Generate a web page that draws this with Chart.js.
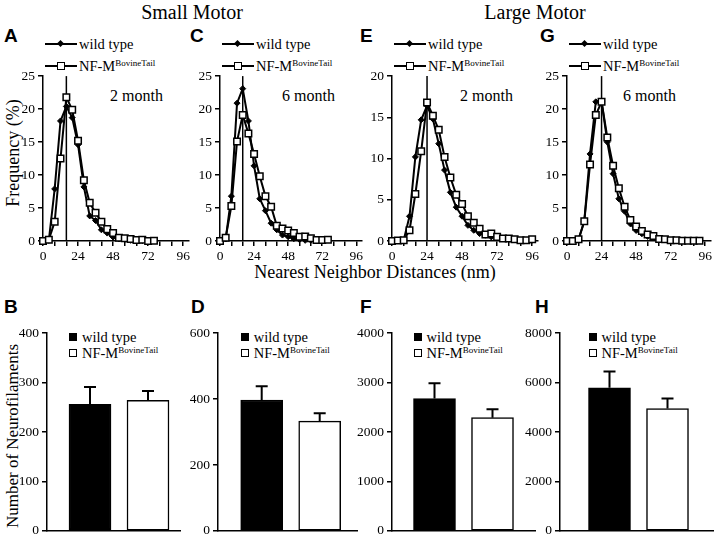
<!DOCTYPE html>
<html><head><meta charset="utf-8">
<script src="https://cdn.jsdelivr.net/npm/chart.js@4/dist/chart.umd.min.js"></script>
<style>
html,body{margin:0;padding:0;background:#fff}
body{width:720px;height:545px;position:relative;overflow:hidden;font-family:"Liberation Serif","Times New Roman",serif;color:#000}
canvas{position:absolute}
.t{position:absolute;white-space:nowrap;line-height:20px}
.let{position:absolute;font-family:"Liberation Sans",Arial,sans-serif;font-weight:bold;font-size:19px;line-height:20px}
.row{position:absolute;display:flex;align-items:center;height:16px;font-size:14.5px;white-space:nowrap}
.ln{position:relative;width:32px;height:0;border-top:2px solid #000;margin-right:2px}
.dia{position:absolute;left:13px;top:-4.5px;width:5px;height:5px;background:#000;transform:rotate(45deg)}
.sq{position:absolute;left:12px;top:-5.5px;width:6px;height:6px;background:#fff;border:1.5px solid #000}
.bsq{width:6px;height:6px;border:1.5px solid #000;margin-right:5px}
.tx sup{font-size:9px;vertical-align:5px;line-height:0}
</style></head><body>
<script>
// ---------- data ----------
const distBins = [0,4,8,12,16,20,24,28,32,36,40,44,48,52,56,60,64,68,72,76,80,84,88,92,96];
const xTickVals = [0,8,16,24,32,40,48,56,64,72,80,88,96];
const seriesNames = ['wild type', 'NF-M'];

// Small motor, 2 month (A)
const wtSmall2m = [0,0.1,7.9,18.2,20.4,18.7,14.6,8.2,3.8,3.1,1.7,1.2,0.6,0.3,0.2,0.1,0.1,0.05,0.05];
const nfSmall2m = [0,0.2,2.9,12.5,21.8,19.9,15.2,9.2,5.8,4.3,2.9,1.8,1.2,0.5,0.4,0.3,0.15,0.2,0.0,0.05];
// Small motor, 6 month (C)
const wtSmall6m = [0,0.3,6.8,20.9,23.1,18.2,11.4,6.4,4.6,2.7,1.7,0.9,0.65,0.35,0.2,0.1,0.1,0.05];
const nfSmall6m = [0,0.5,5.3,15.1,19.1,16.3,13.2,9.8,6.8,5.2,2.3,1.9,1.6,1.2,0.65,0.7,0.4,0.15,0.15,0.2];
// Large motor, 2 month (E)
const wtLarge2m = [0,0,0.1,3.0,10.2,14.7,16.4,14.8,11.8,8.6,5.9,4.1,3.0,1.9,1.3,0.9,0.7,0.5,0.4,0.3,0.2,0.15,0.1,0.1,0.1];
const nfLarge2m = [0,0.05,0.1,1.3,5.7,10.9,16.8,15.2,13.5,10.2,7.7,5.6,4.5,3.0,2.2,1.5,0.8,0.9,0.5,0.3,0.3,0.2,0.1,0.1,0.2];
// Large motor, 6 month (G)
const wtLarge6m = [0,0,0.2,3.0,13.2,21.1,21.2,15.0,10.2,6.4,4.5,2.6,1.6,1.1,0.7,0.5,0.3,0.2,0.1,0.1,0.05,0.05,0.05,0.05];
const nfLarge6m = [0,0,0.25,3.0,11.6,19.1,21.1,15.7,11.4,8.0,5.2,3.2,2.2,1.5,1.0,0.75,0.3,0.25,0.1,0.1,0.05,0.05,0.05,0.05];
// reference (peak) lines
const peakLines = [16,16,24,24];
const freqMax = [25,25,20,25];

// Neurofilament counts (B, D, F, H): [wild type, NF-M]
const countSmall2m = [256,264];   const errSmall2m = [35,19];
const countSmall6m = [397,333];   const errSmall6m = [42,24];
const countLarge2m = [2677,2290]; const errLarge2m = [310,168];
const countLarge6m = [5790,4950]; const errLarge6m = [660,400];
const countMax = [400,600,4000,8000];
const countStep = [100,200,1000,2000];
const ageLabels = ['2 month','6 month','2 month','6 month'];

// ---------- helpers ----------
const SERIF = "'Liberation Serif', 'Times New Roman', serif";
function el(tag, cls, style, html){const e=document.createElement(tag); if(cls)e.className=cls; if(style)e.style.cssText=style; if(html!==undefined)e.innerHTML=html; document.body.appendChild(e); return e;}
function pts(vals){return vals.map((v,i)=>({x:distBins[i],y:v}));}
const nfLabel = '<span class="tx">NF-M<sup>BovineTail</sup></span>';

function axisCommon(){
  return {
    grid:{display:true,drawOnChartArea:false,drawTicks:true,tickLength:5,color:'#000',lineWidth:1.5},
    border:{display:true,color:'#000',width:1.5},
    ticks:{color:'#000',font:{family:SERIF,size:13.5},padding:2,autoSkip:false,maxRotation:0,callback:v=>String(v)}
  };
}

function lineChart(axisX, plotW, wt, nf, peak, ymax){
  const PT=10, PR=12, YW=45, XH=28, PH=166;
  const c = el('canvas');
  c.width = YW+plotW+PR; c.height = PT+PH+XH;
  c.style.left=(axisX-YW)+'px'; c.style.top=(75-PT)+'px';
  c.style.width=c.width+'px'; c.style.height=c.height+'px';
  const xa = axisCommon(), ya = axisCommon();
  Object.assign(xa,{type:'linear',min:0,max:100,
    afterBuildTicks:s=>{s.ticks=xTickVals.map(v=>({value:v}));},
    afterFit:s=>{s.height=XH;}});
  xa.ticks.callback = v => (v%24===0 ? String(v) : '');
  const yt=[]; for(let v=0; v<=ymax; v+=5) yt.push(v);
  Object.assign(ya,{type:'linear',min:0,max:ymax,
    afterBuildTicks:s=>{s.ticks=yt.map(v=>({value:v}));},
    afterFit:s=>{s.width=YW;}});
  ya.ticks.padding = 3;
  new Chart(c,{type:'line',
    data:{datasets:[
      {label:seriesNames[1],data:pts(nf),order:0,borderColor:'#000',borderWidth:2,pointStyle:'rect',pointRadius:4.6,pointBackgroundColor:'#fff',pointBorderColor:'#000',pointBorderWidth:1.5,tension:0,clip:false},
      {label:seriesNames[0],data:pts(wt),order:1,borderColor:'#000',borderWidth:2,pointStyle:'rectRot',pointRadius:3,pointBackgroundColor:'#000',pointBorderColor:'#000',pointBorderWidth:1,tension:0,clip:false},
      {label:'peak',data:[{x:peak,y:0},{x:peak,y:ymax}],order:2,borderColor:'#000',borderWidth:1.5,pointRadius:0,clip:false}
    ]},
    options:{responsive:false,animation:false,devicePixelRatio:1,
      layout:{padding:{top:PT,right:PR,left:0,bottom:0}},
      plugins:{legend:{display:false},tooltip:{enabled:false}},
      scales:{x:xa,y:ya}}
  });
}

const errorBarPlugin = {
  id:'errbars',
  afterDatasetsDraw(chart){
    const ctx=chart.ctx, ys=chart.scales.y;
    chart.data.datasets.forEach((ds,di)=>{
      const meta=chart.getDatasetMeta(di);
      meta.data.forEach((bar,i)=>{
        const v=ds.data[i].y, e=ds.errors[i];
        const yTop=ys.getPixelForValue(v+e), yBar=ys.getPixelForValue(v);
        ctx.save(); ctx.strokeStyle='#000'; ctx.lineWidth=2;
        ctx.beginPath(); ctx.moveTo(bar.x,yBar); ctx.lineTo(bar.x,yTop);
        ctx.moveTo(bar.x-6,yTop); ctx.lineTo(bar.x+6,yTop); ctx.stroke(); ctx.restore();
      });
    });
  }
};

function barChart(x0, w, firstC, counts, errs, ymax, step){
  const PT=10, PR=5, YW=45, XH=4, PH=206, U=58;
  const c = el('canvas');
  c.width = YW+w+PR; c.height = PT+PH+XH;
  c.style.left=(x0-YW)+'px'; c.style.top=(332-PT)+'px';
  c.style.width=c.width+'px'; c.style.height=c.height+'px';
  const xmin = 1 - firstC/U, xmax = xmin + w/U;
  const ya = axisCommon();
  const yt=[]; for(let v=0; v<=ymax; v+=step) yt.push(v);
  Object.assign(ya,{type:'linear',min:0,max:ymax,
    afterBuildTicks:s=>{s.ticks=yt.map(v=>({value:v}));},
    afterFit:s=>{s.width=YW;}});
  ya.ticks.padding = 3;
  new Chart(c,{type:'bar',
    data:{datasets:[{label:'count',data:counts.map((v,i)=>({x:i+1,y:v})),errors:errs,
      backgroundColor:['#000','#fff'],borderColor:'#000',borderWidth:1.5,barThickness:42,borderSkipped:false}]},
    options:{responsive:false,animation:false,devicePixelRatio:1,
      layout:{padding:{top:PT,right:PR,left:0,bottom:0}},
      plugins:{legend:{display:false},tooltip:{enabled:false}},
      scales:{
        x:{type:'linear',min:xmin,max:xmax,offset:false,
           grid:{display:false,offset:false},ticks:{display:false},
           border:{display:true,color:'#000',width:1.5},
           afterFit:s=>{s.height=XH;}},
        y:ya}},
    plugins:[errorBarPlugin]
  });
}

// ---------- layout ----------
const topPanels = [
  {axisX:43, w:146, wt:wtSmall2m, nf:nfSmall2m, letter:'A', lx:4,   ageX:110},
  {axisX:220,w:142, wt:wtSmall6m, nf:nfSmall6m, letter:'C', lx:190, ageX:282},
  {axisX:392,w:146, wt:wtLarge2m, nf:nfLarge2m, letter:'E', lx:360, ageX:460},
  {axisX:567,w:144, wt:wtLarge6m, nf:nfLarge6m, letter:'G', lx:540, ageX:623}
];
const botPanels = [
  {x0:47, w:133, c:43,   counts:countSmall2m, errs:errSmall2m, letter:'B', lx:4},
  {x0:218,w:139, c:43.7, counts:countSmall6m, errs:errSmall6m, letter:'D', lx:191},
  {x0:392,w:143, c:42.5, counts:countLarge2m, errs:errLarge2m, letter:'F', lx:360},
  {x0:560,w:153, c:49.5, counts:countLarge6m, errs:errLarge6m, letter:'H', lx:535}
];

// HTML text parts
topPanels.forEach((p,i)=>{
  el('div','let',`left:${p.lx}px;top:26px`,p.letter);
  el('div','t',`left:${p.ageX}px;top:86px;font-size:16px`,ageLabels[i]);
  el('div','row',`left:${p.axisX+2}px;top:36px`,`<span class="ln"><i class="dia"></i></span><span class="tx">${seriesNames[0]}</span>`);
  el('div','row',`left:${p.axisX+2}px;top:58px`,`<span class="ln"><i class="sq"></i></span>${nfLabel}`);
});
botPanels.forEach((p,i)=>{
  el('div','let',`left:${p.lx}px;top:297px`,p.letter);
  const lx = p.x0 + p.c - 21;
  el('div','row',`left:${lx}px;top:329px`,`<span class="bsq" style="background:#000"></span><span class="tx">${seriesNames[0]}</span>`);
  el('div','row',`left:${lx}px;top:345px`,`<span class="bsq" style="background:#fff"></span>${nfLabel}`);
});
el('div','t','left:92px;top:2px;width:200px;text-align:center;font-size:20px','Small Motor');
el('div','t','left:435px;top:2px;width:200px;text-align:center;font-size:20px','Large Motor');
el('div','t','left:225px;top:262px;width:300px;text-align:center;font-size:18px','Nearest Neighbor Distances (nm)');
el('div','t','left:-87px;top:143px;width:200px;text-align:center;font-size:18px;transform:rotate(-90deg)','Frequency (%)');
el('div','t','left:-137px;top:426px;width:300px;text-align:center;font-size:17px;transform:rotate(-90deg)','Number of Neurofilaments');

function build(){
  topPanels.forEach((p,i)=>lineChart(p.axisX,p.w,p.wt,p.nf,peakLines[i],freqMax[i]));
  botPanels.forEach((p,i)=>barChart(p.x0,p.w,p.c,p.counts,p.errs,countMax[i],countStep[i]));
}
let built=false;
function go(){ if(!built){built=true; build();} }
if (document.fonts && document.fonts.load) {
  Promise.all([document.fonts.load("13px 'Liberation Serif'"), document.fonts.load("13px 'Liberation Sans'")]).then(go, go);
  setTimeout(go, 1500);
} else go();
</script>
</body></html>
